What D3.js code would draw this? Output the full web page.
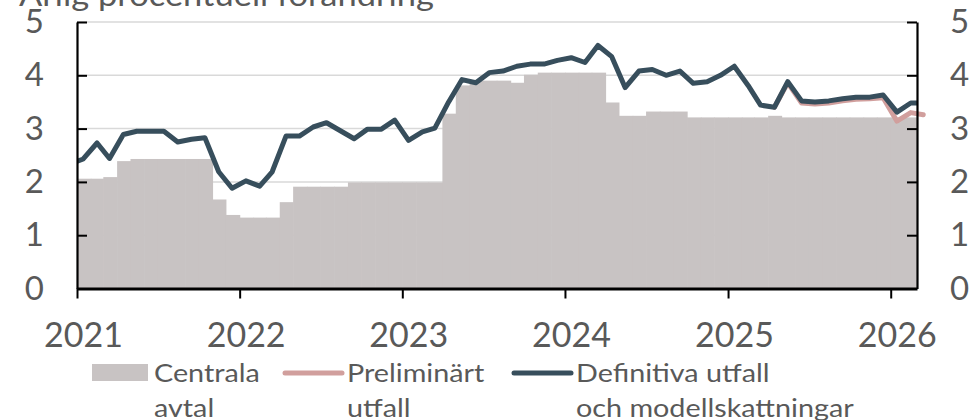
<!DOCTYPE html>
<html>
<head>
<meta charset="utf-8">
<script src="https://cdn.jsdelivr.net/npm/d3@7"></script>
<style>
  body { margin: 0; background: #fff; }
  text { font-family: Lato, sans-serif; fill: #595959; }
</style>
</head>
<body>
<div id="chart"></div>
<script>
let width = 977;
let height = 420;
let plotLeft = 77, plotRight = 917, plotTop = 22, plotBottom = 288.5;

let title = "Årlig procentuell förändring";
let yTicks = [0, 1, 2, 3, 4, 5];
let yearTicks = [2021, 2022, 2023, 2024, 2025, 2026];

// centrala avtal, one value per month from jan 2021
let avtalStart = "2021-01";
let avtal = [2.06, 2.06, 2.09, 2.39, 2.43, 2.43, 2.43, 2.43, 2.43, 2.43, 1.67, 1.38,
             1.33, 1.33, 1.33, 1.62, 1.91, 1.91, 1.91, 1.91, 1.99, 1.99, 1.99, 1.99,
             1.99, 1.99, 1.99, 3.28, 3.81, 3.90, 3.90, 3.90, 3.86, 4.01, 4.05, 4.05,
             4.05, 4.05, 4.05, 3.49, 3.24, 3.24, 3.32, 3.32, 3.32, 3.21, 3.21, 3.21,
             3.21, 3.21, 3.21, 3.24, 3.21, 3.21, 3.21, 3.21, 3.21, 3.21, 3.21, 3.21,
             3.21, 3.21];

// definitiva utfall och modellskattningar, from dec 2020
let defStart = "2020-12";
let definitiva = [2.33,
             2.43, 2.73, 2.44, 2.89, 2.95, 2.95, 2.95, 2.75, 2.80, 2.83, 2.19, 1.88,
             2.02, 1.92, 2.19, 2.86, 2.86, 3.03, 3.11, 2.96, 2.81, 2.99, 2.99, 3.16,
             2.78, 2.94, 3.01, 3.50, 3.92, 3.86, 4.05, 4.08, 4.17, 4.21, 4.21, 4.28,
             4.33, 4.24, 4.56, 4.35, 3.77, 4.08, 4.11, 4.00, 4.08, 3.85, 3.88, 4.00,
             4.17, 3.81, 3.44, 3.40, 3.88, 3.52, 3.50, 3.52, 3.56, 3.59, 3.59, 3.63,
             3.31, 3.48, 3.48];

// preliminärt utfall, from apr 2025
let prelStart = "2025-04";
let preliminart = [3.40, 3.86, 3.48, 3.46, 3.48, 3.52, 3.55, 3.56, 3.58, 3.14, 3.30, 3.26];

let legendItems = [
    {lines: ["Centrala", "avtal"], type: "rect", color: "#c8c3c3"},
    {lines: ["Preliminärt", "utfall"], type: "line", color: "#d19f9d"},
    {lines: ["Definitiva utfall", "och modellskattningar"], type: "line", color: "#374e5c"}
];

let parseMonth = d3.timeParse("%Y-%m");
let toSeries = (start, values) => values.map((v, i) => ({
    month: d3.timeMonth.offset(parseMonth(start), i),
    value: v
}));

let avtalData = toSeries(avtalStart, avtal);
let defData = toSeries(defStart, definitiva);
let prelData = toSeries(prelStart, preliminart);

let xScale = d3.scaleTime()
                .domain([new Date(2021, 0, 1), new Date(2026, 2, 1)])
                .range([plotLeft, plotRight]);
let yScale = d3.scaleLinear()
                .domain([0, 5])
                .range([plotBottom, plotTop]);

let svg = d3.select("#chart")
    .append("svg")
    .attr("width", width)
    .attr("height", height);

svg.append("defs").append("clipPath")
    .attr("id", "plot")
    .append("rect")
    .attr("x", plotLeft)
    .attr("y", 0)
    .attr("width", plotRight - plotLeft)
    .attr("height", plotBottom);

// title, cut at the top of the picture (text is drawn a bit wide, as in the original)
svg.append("text")
    .attr("transform", "translate(19, 6) scale(1.15, 1)")
    .attr("font-size", 30)
    .text(title);

// gridlines
svg.append("g")
    .selectAll("line")
    .data(yTicks.filter(d => d > 0))
    .join("line")
    .attr("x1", plotLeft)
    .attr("x2", plotRight)
    .attr("y1", d => yScale(d))
    .attr("y2", d => yScale(d))
    .attr("stroke", "#d9d9d9")
    .attr("stroke-width", 1.5);

// centrala avtal as monthly columns
svg.append("g")
    .attr("clip-path", "url(#plot)")
    .selectAll("rect")
    .data(avtalData)
    .join("rect")
    .attr("x", d => xScale(d.month))
    .attr("width", d => xScale(d3.timeMonth.offset(d.month, 1)) - xScale(d.month) + 0.6)
    .attr("y", d => yScale(d.value))
    .attr("height", d => yScale(0) - yScale(d.value))
    .attr("fill", "#c8c3c3");

let lineGenerator = d3.line()
    .x(d => xScale(d3.timeDay.offset(d.month, 14)))
    .y(d => yScale(d.value));

svg.append("path")
    .datum(prelData)
    .attr("d", lineGenerator)
    .attr("fill", "none")
    .attr("stroke", "#d19f9d")
    .attr("stroke-width", 5)
    .attr("stroke-linejoin", "round")
    .attr("stroke-linecap", "round");

svg.append("path")
    .datum(defData)
    .attr("clip-path", "url(#plot)")
    .attr("d", lineGenerator)
    .attr("fill", "none")
    .attr("stroke", "#374e5c")
    .attr("stroke-width", 5)
    .attr("stroke-linejoin", "round");

// axes
let yLeft = svg.append("g")
    .attr("transform", `translate(${plotLeft}, 0)`)
    .call(d3.axisLeft(yScale).tickValues(yTicks).tickFormat(d3.format("d"))
            .tickSize(-10).tickSizeOuter(0).tickPadding(33));

let yRight = svg.append("g")
    .attr("transform", `translate(${plotRight}, 0)`)
    .call(d3.axisRight(yScale).tickValues(yTicks).tickFormat(d3.format("d"))
            .tickSize(-10).tickSizeOuter(0).tickPadding(33));

let xAxis = svg.append("g")
    .attr("transform", `translate(0, ${plotBottom})`)
    .call(d3.axisBottom(xScale)
            .tickValues(yearTicks.map(y => new Date(y, 0, 1)))
            .tickFormat(d3.timeFormat("%Y"))
            .tickSize(10).tickSizeOuter(0).tickPadding(24));

[yLeft, yRight, xAxis].forEach(g => {
    g.attr("font-family", null).attr("font-size", 33);
    g.selectAll("line").attr("stroke", "#000").attr("stroke-width", 2);
    g.select(".domain").attr("stroke", "#000").attr("stroke-width", 2.2);
    g.selectAll("text").attr("fill", "#595959");
});
xAxis.attr("font-size", 34);
xAxis.select(".domain").attr("stroke-width", 2.8);
xAxis.selectAll("text").attr("dx", 6);

// legend
let legendX = [92, 283, 512];
let legend = svg.append("g")
    .selectAll("g")
    .data(legendItems)
    .join("g")
    .attr("transform", (d, i) => `translate(${legendX[i]}, 0)`);

legend.filter(d => d.type == "rect")
    .append("rect")
    .attr("x", 0)
    .attr("y", 364)
    .attr("width", 56)
    .attr("height", 17)
    .attr("fill", d => d.color);

legend.filter(d => d.type == "line")
    .append("line")
    .attr("x1", 2)
    .attr("x2", 59)
    .attr("y1", 373)
    .attr("y2", 373)
    .attr("stroke", d => d.color)
    .attr("stroke-width", 5)
    .attr("stroke-linecap", "round");

legend.append("text")
    .attr("transform", d => `translate(${d.type == "rect" ? 62 : 64}, 0) scale(1.15, 1)`)
    .attr("font-size", 25)
    .selectAll("tspan")
    .data(d => d.lines)
    .join("tspan")
    .attr("x", 0)
    .attr("y", (d, i) => 382 + i * 35)
    .text(d => d);
</script>
</body>
</html>
